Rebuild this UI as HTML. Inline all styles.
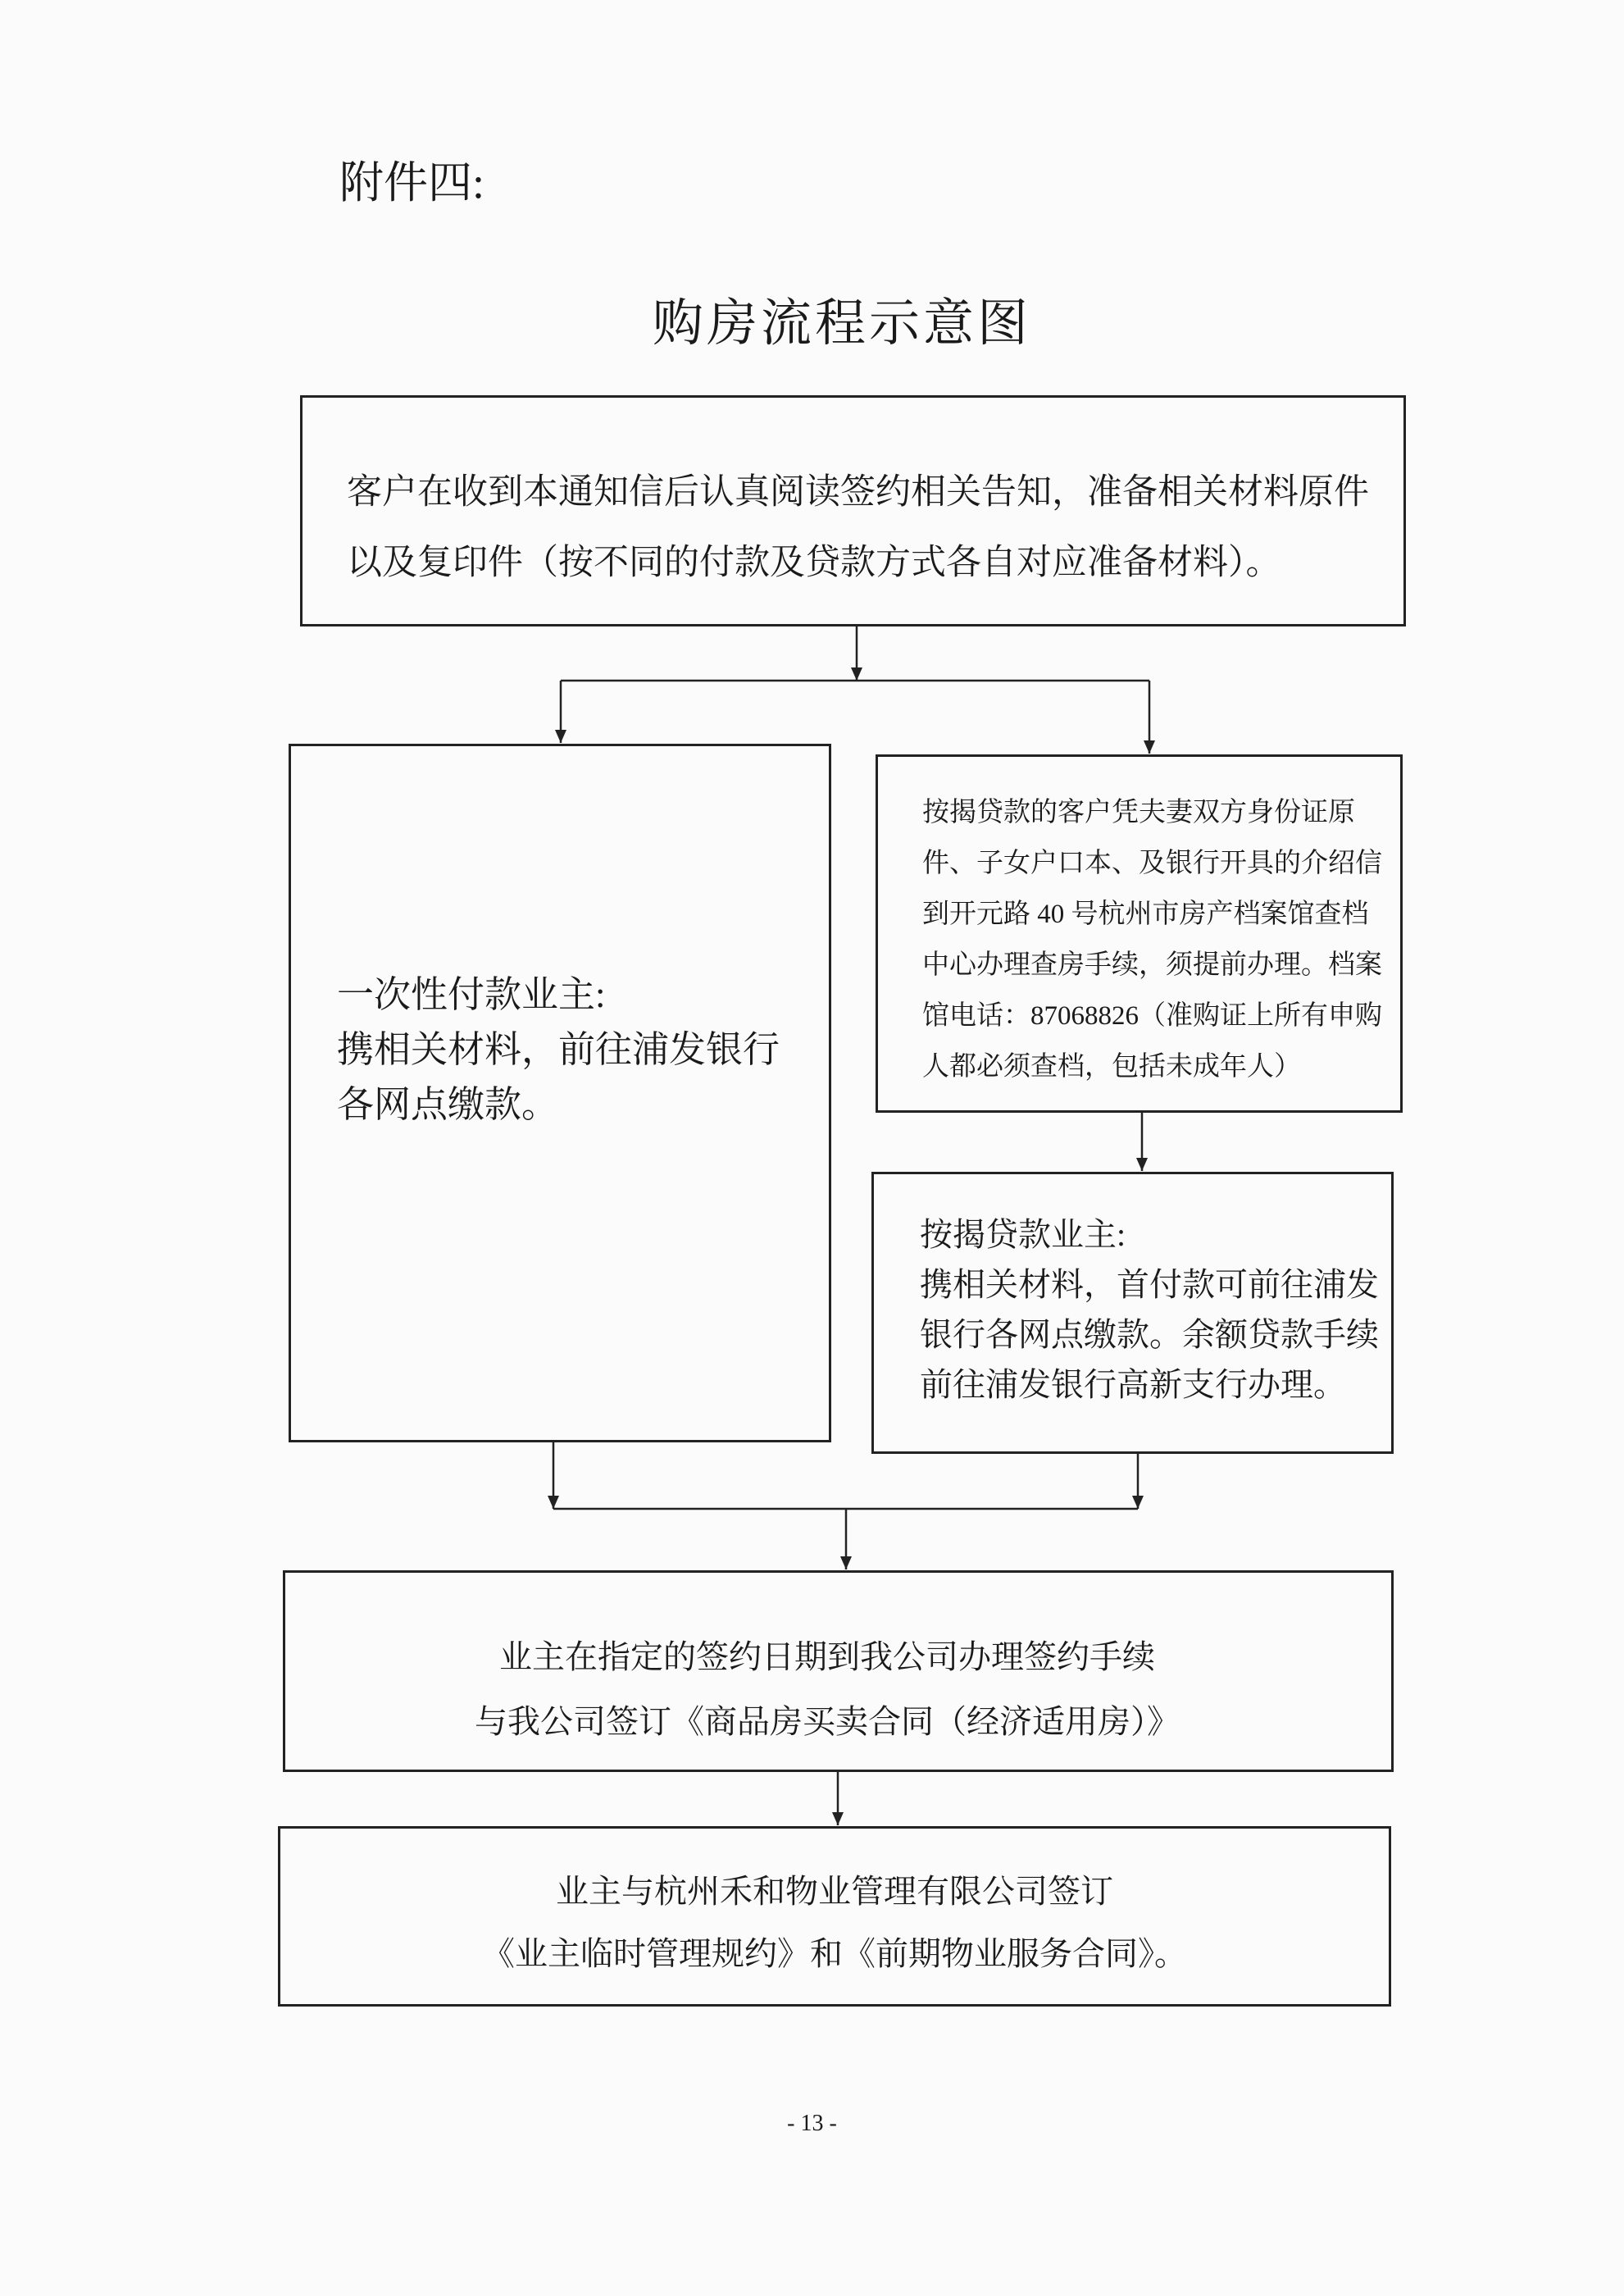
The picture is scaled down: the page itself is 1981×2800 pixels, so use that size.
<!DOCTYPE html>
<html><head><meta charset="utf-8">
<style>
body{margin:0;width:1981px;height:2800px;background:#fbfbfb;position:relative;overflow:hidden;font-family:"Liberation Serif","Noto Serif CJK SC","Noto Sans CJK SC",serif;color:#1a1a1a}
.a{position:absolute;white-space:nowrap}
.b{position:absolute;border:3px solid #222;box-sizing:border-box}
</style></head><body>
<div class="a" style="left:414px;top:180px;font-size:54px">附件四:</div>
<div class="a" style="left:0;width:2054px;text-align:center;top:344px;font-size:62px;letter-spacing:4px">购房流程示意图</div>

<div class="b" style="left:366px;top:482px;width:1349px;height:282px"></div>
<div class="a" style="left:423px;top:558px;font-size:43px;line-height:86px">客户在收到本通知信后认真阅读签约相关告知，准备相关材料原件<br>以及复印件（按不同的付款及贷款方式各自对应准备材料）。</div>

<div class="b" style="left:352px;top:907px;width:662px;height:852px"></div>
<div class="a" style="left:411px;top:1180px;font-size:45px;line-height:67px">一次性付款业主:<br>携相关材料，前往浦发银行<br>各网点缴款。</div>

<div class="b" style="left:1068px;top:920px;width:643px;height:437px"></div>
<div class="a" style="left:1125px;top:960px;font-size:33px;line-height:62px">按揭贷款的客户凭夫妻双方身份证原<br>件、子女户口本、及银行开具的介绍信<br>到开元路 40 号杭州市房产档案馆查档<br>中心办理查房手续，须提前办理。档案<br>馆电话：87068826（准购证上所有申购<br>人都必须查档，包括未成年人）</div>

<div class="b" style="left:1063px;top:1429px;width:637px;height:344px"></div>
<div class="a" style="left:1122px;top:1475px;font-size:40px;line-height:61px">按揭贷款业主:<br>携相关材料，首付款可前往浦发<br>银行各网点缴款。余额贷款手续<br>前往浦发银行高新支行办理。</div>

<div class="b" style="left:345px;top:1915px;width:1355px;height:246px"></div>
<div class="a" style="left:345px;width:1328px;text-align:center;top:1981px;font-size:40px;line-height:79px">业主在指定的签约日期到我公司办理签约手续<br>与我公司签订《商品房买卖合同（经济适用房）》</div>

<div class="b" style="left:339px;top:2227px;width:1358px;height:220px"></div>
<div class="a" style="left:339px;width:1358px;text-align:center;top:2269px;font-size:40px;line-height:76px">业主与杭州禾和物业管理有限公司签订<br>《业主临时管理规约》和《前期物业服务合同》。</div>

<div class="a" style="left:0;width:1981px;text-align:center;top:2574px;font-size:28px">- 13 -</div>

<svg width="1981" height="2800" style="position:absolute;left:0;top:0">
<defs><marker id="m" markerWidth="16" markerHeight="14" refX="16" refY="7" orient="auto" markerUnits="userSpaceOnUse"><path d="M0,0 L16,7 L0,14 z" fill="#222"/></marker></defs>
<g stroke="#222" stroke-width="2.5" fill="none">
<line x1="1045" y1="764" x2="1045" y2="830" marker-end="url(#m)"/>
<line x1="684" y1="830" x2="1402" y2="830"/>
<line x1="684" y1="830" x2="684" y2="906" marker-end="url(#m)"/>
<line x1="1402" y1="830" x2="1402" y2="919" marker-end="url(#m)"/>
<line x1="1393" y1="1357" x2="1393" y2="1428" marker-end="url(#m)"/>
<line x1="675" y1="1759" x2="675" y2="1840" marker-end="url(#m)"/>
<line x1="1388" y1="1773" x2="1388" y2="1840" marker-end="url(#m)"/>
<line x1="675" y1="1840" x2="1388" y2="1840"/>
<line x1="1032" y1="1840" x2="1032" y2="1914" marker-end="url(#m)"/>
<line x1="1022" y1="2161" x2="1022" y2="2226" marker-end="url(#m)"/>
</g></svg>
</body></html>
